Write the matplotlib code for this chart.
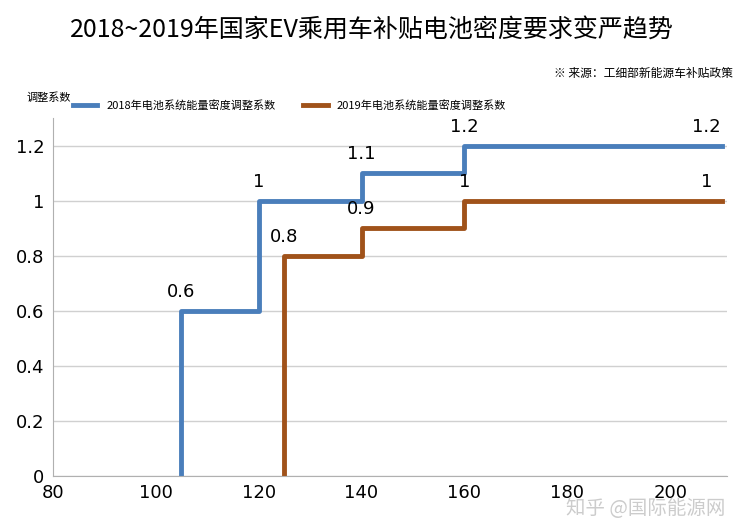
import matplotlib
matplotlib.use("Agg")
import matplotlib.pyplot as plt

plt.rcParams["font.family"] = ["Noto Sans CJK SC", "DejaVu Sans"]

x_2018 = [105, 105, 120, 140, 160, 210]
y_2018 = [0, 0.6, 1.0, 1.1, 1.2, 1.2]
x_2019 = [125, 125, 140, 160, 210]
y_2019 = [0, 0.8, 0.9, 1.0, 1.0]
lab_2018 = [(105, 0.6, "0.6"), (120, 1.0, "1"), (140, 1.1, "1.1"), (160, 1.2, "1.2"), (207, 1.2, "1.2")]
lab_2019 = [(125, 0.8, "0.8"), (140, 0.9, "0.9"), (160, 1.0, "1"), (207, 1.0, "1")]
x_ticks = [80, 100, 120, 140, 160, 180, 200]
y_ticks = [0, 0.2, 0.4, 0.6, 0.8, 1, 1.2]
y_tick_labels = ["0", "0.2", "0.4", "0.6", "0.8", "1", "1.2"]

blue = "#4a7ebb"
brown = "#a0521a"

fig = plt.figure(figsize=(7.44, 5.2), dpi=100)
ax = fig.add_axes([0.071, 0.085, 0.906, 0.688])
ax.plot(x_2018, y_2018, drawstyle="steps-post", color=blue, lw=3.5, label="2018年电池系统能量密度调整系数")
ax.plot(x_2019, y_2019, drawstyle="steps-post", color=brown, lw=3.5, label="2019年电池系统能量密度调整系数")
for x, y, t in lab_2018 + lab_2019:
    ax.text(x, y + 0.035, t, ha="center", va="bottom", fontsize=13, family="DejaVu Sans")

ax.set_xlim(80, 211)
ax.set_ylim(0, 1.3)
ax.set_xticks(x_ticks)
ax.set_yticks(y_ticks)
ax.set_yticklabels(y_tick_labels)
ax.tick_params(labelsize=13, length=0, pad=6)
for lbl in ax.get_xticklabels() + ax.get_yticklabels():
    lbl.set_family("DejaVu Sans")
ax.grid(axis="y", color="#d0d0d0", lw=1)
ax.set_axisbelow(True)
for s in ["top", "right"]:
    ax.spines[s].set_visible(False)
for s in ["left", "bottom"]:
    ax.spines[s].set_color("#b0b0b0")

ax.legend(loc="lower left", bbox_to_anchor=(0.02, 1.0), ncol=2, frameon=False, fontsize=8,
          handlelength=2.2, columnspacing=2.5, borderaxespad=0.2)
fig.text(0.035, 0.805, "调整系数", fontsize=8)
fig.text(0.5, 0.93, "2018~2019年国家EV乘用车补贴电池密度要求变严趋势", ha="center", fontsize=18)
fig.text(0.985, 0.852, "※ 来源：工细部新能源车补贴政策", ha="right", fontsize=8.5)
fig.text(0.975, 0.012, "知乎 @国际能源网", ha="right", fontsize=14, color="#cccccc")

fig.savefig("out.png")
